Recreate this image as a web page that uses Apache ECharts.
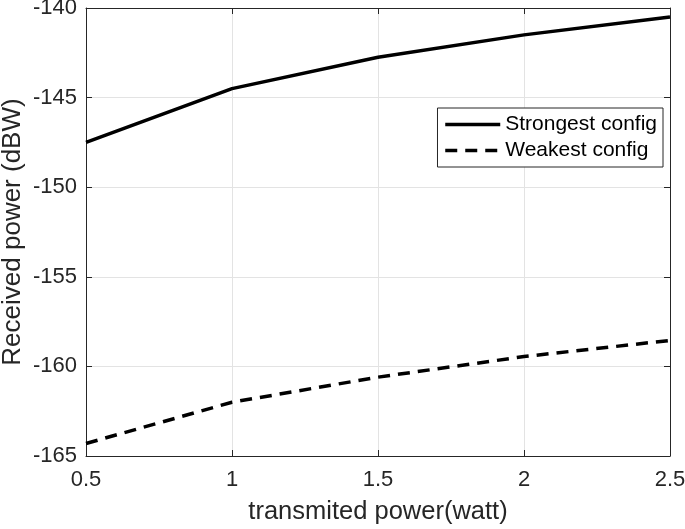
<!DOCTYPE html>
<html><head><meta charset="utf-8">
<script src="https://cdn.jsdelivr.net/npm/echarts@6/dist/echarts.min.js"></script>
<style>html,body{margin:0;padding:0;background:#fff}#c{width:685px;height:529px}</style>
</head><body><div id="c"></div>
<script>
const xValues = [0.5, 1, 1.5, 2, 2.5];
const strongest = [-147.5, -144.5, -142.75, -141.5, -140.5];
const weakest = [-164.3, -162.0, -160.6, -159.45, -158.55];
const seriesNames = ['Strongest config', 'Weakest config'];

const font = 'Liberation Sans, Arial, sans-serif';
const txt = '#262626';
const chart = echarts.init(document.getElementById('c'));
const axisCommon = {
  axisLine: {show: true, lineStyle: {color: txt, width: 1}},
  axisTick: {show: true, inside: true, length: 6, lineStyle: {color: txt}},
};
chart.setOption({
  animation: false,
  grid: {left: 86, right: 15, top: 8, bottom: 73, show: false, outerBoundsMode: 'none', containLabel: false},
  legend: {
    right: 22, top: 108, orient: 'vertical', align: 'left',
    backgroundColor: '#fff', borderColor: txt, borderWidth: 1, borderRadius: 0,
    padding: [6, 6, 6, 6], itemGap: 5, itemWidth: 55, itemHeight: 14,
    textStyle: {fontFamily: font, fontSize: 21, color: '#000'},
    itemStyle: {opacity: 0},
    lineStyle: {width: 3.5},
    data: seriesNames
  },
  xAxis: [{
    type: 'value', min: 0.5, max: 2.5, interval: 0.5,
    name: 'transmited power(watt)', nameLocation: 'middle', nameGap: 43, nameMoveOverlap: false,
    nameTextStyle: {fontFamily: font, fontSize: 25.5, color: txt},
    axisLabel: {fontFamily: font, fontSize: 22, color: txt, margin: 13},
    splitLine: {show: true, lineStyle: {color: '#e3e3e3'}},
    ...axisCommon
  }, {
    type: 'value', min: 0.5, max: 2.5, interval: 0.5, position: 'top',
    axisLabel: {show: false}, splitLine: {show: false}, ...axisCommon
  }],
  yAxis: [{
    type: 'value', min: -165, max: -140, interval: 5,
    name: 'Received power (dBW)', nameLocation: 'middle', nameGap: 60, nameMoveOverlap: false,
    nameTextStyle: {fontFamily: font, fontSize: 26, color: txt},
    axisLabel: {fontFamily: font, fontSize: 22, color: txt, margin: 9},
    splitLine: {show: true, lineStyle: {color: '#e3e3e3'}},
    ...axisCommon
  }, {
    type: 'value', min: -165, max: -140, interval: 5, position: 'right',
    axisLabel: {show: false}, splitLine: {show: false}, ...axisCommon
  }],
  series: [{
    name: seriesNames[0], type: 'line', symbol: 'none',
    data: xValues.map((x, i) => [x, strongest[i]]),
    lineStyle: {color: '#000', width: 3.5, type: 'solid'}, itemStyle: {color: '#000'}
  }, {
    name: seriesNames[1], type: 'line', symbol: 'none',
    data: xValues.map((x, i) => [x, weakest[i]]),
    lineStyle: {color: '#000', width: 3.5, type: [12, 8]}, itemStyle: {color: '#000'}
  }]
});
</script></body></html>
